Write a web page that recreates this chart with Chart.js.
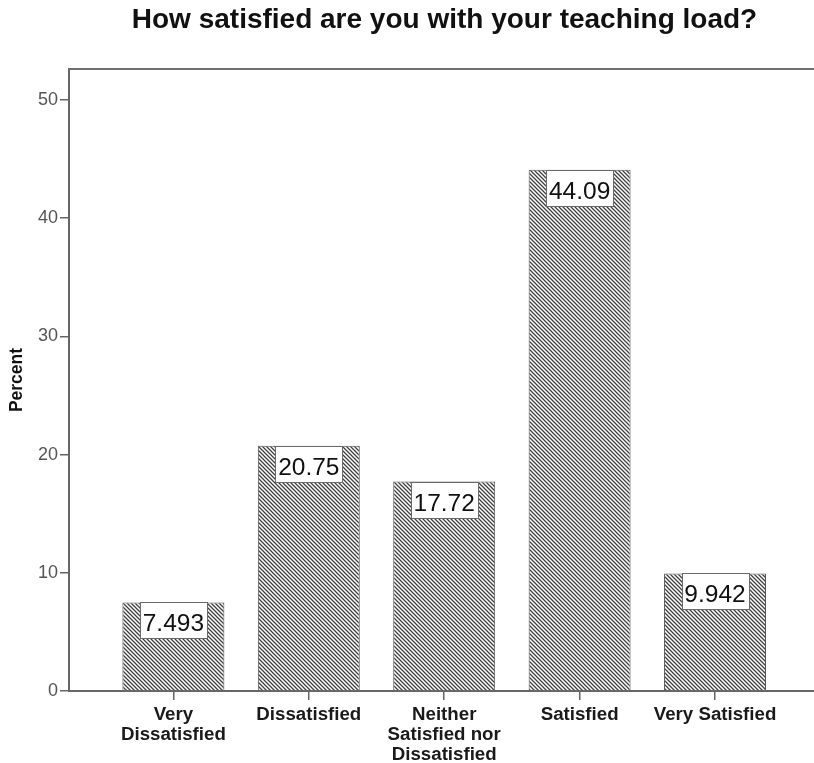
<!DOCTYPE html>
<html>
<head>
<meta charset="utf-8">
<script src="https://cdn.jsdelivr.net/npm/chart.js@4/dist/chart.umd.min.js"></script>
<style>
  html, body { margin: 0; padding: 0; background: #fff; }
  #wrap { width: 814px; height: 763px; }
</style>
</head>
<body>
<div id="wrap"><canvas id="c" width="814" height="763"></canvas></div>
<script>
const titleText = "How satisfied are you with your teaching load?";
const categories = [
  ["Very", "Dissatisfied"],
  ["Dissatisfied"],
  ["Neither", "Satisfied nor", "Dissatisfied"],
  ["Satisfied"],
  ["Very Satisfied"]
];
const percentValues = [7.493, 20.75, 17.72, 44.09, 9.942];
const valueLabels = ["7.493", "20.75", "17.72", "44.09", "9.942"];
const yTicks = [0, 10, 20, 30, 40, 50];
const yAxisTitle = "Percent";

const FONT = '"Liberation Sans", Arial, Helvetica, sans-serif';

function makeHatch() {
  const s = 4;
  const c = document.createElement('canvas');
  c.width = s; c.height = s;
  const g = c.getContext('2d');
  g.fillStyle = '#ffffff';
  g.fillRect(0, 0, s, s);
  g.strokeStyle = '#404040';
  g.lineWidth = 1.3;
  g.beginPath();
  g.moveTo(-1, -1); g.lineTo(s + 1, s + 1);
  g.moveTo(-1, s - 1); g.lineTo(1, s + 1);
  g.moveTo(s - 1, -1); g.lineTo(s + 1, 1);
  g.stroke();
  return document.getElementById('c').getContext('2d').createPattern(c, 'repeat');
}

const framePlugin = {
  id: 'frame',
  afterLayout(chart) {
    const t = chart.titleBlock;
    if (t) {
      t.left = chart.chartArea.left + 3;
      t.right = chart.chartArea.right + 3;
      t.width = t.right - t.left;
    }
  },
  afterDraw(chart) {
    const {ctx, chartArea} = chart;
    ctx.save();
    ctx.strokeStyle = '#707070';
    ctx.lineWidth = 2;
    ctx.beginPath();
    ctx.moveTo(chartArea.left, chartArea.top);
    ctx.lineTo(chartArea.right, chartArea.top);
    ctx.stroke();
    ctx.restore();
  }
};

const valueLabelPlugin = {
  id: 'valueLabels',
  afterDatasetsDraw(chart) {
    const {ctx} = chart;
    const meta = chart.getDatasetMeta(0);
    ctx.save();
    ctx.font = '24.5px ' + FONT;
    meta.data.forEach((bar, i) => {
      const txt = valueLabels[i];
      const w = Math.round(ctx.measureText(txt).width + 6);
      const h = 36;
      const left = Math.round(bar.x - w / 2) + 0.5;
      const top = Math.round(bar.y) + 0.5;
      ctx.fillStyle = '#ffffff';
      ctx.fillRect(left, top, w, h);
      ctx.strokeStyle = '#6a6a6a';
      ctx.lineWidth = 1;
      ctx.strokeRect(left, top, w, h);
      ctx.fillStyle = '#111111';
      ctx.textAlign = 'center';
      ctx.textBaseline = 'alphabetic';
      ctx.fillText(txt, bar.x, top + 28);
    });
    ctx.restore();
  }
};

const hatch = makeHatch();

new Chart(document.getElementById('c'), {
  type: 'bar',
  data: {
    datasets: [{
      data: percentValues.map((v, i) => ({x: i, y: v})),
      backgroundColor: hatch,
      borderColor: '#555555',
      borderWidth: 1,
      barPercentage: 0.753,
      categoryPercentage: 1.0
    }]
  },
  options: {
    responsive: false,
    animation: false,
    devicePixelRatio: 1,
    layout: { padding: 0 },
    plugins: {
      legend: { display: false },
      tooltip: { enabled: false },
      title: {
        display: true,
        text: titleText,
        color: '#111111',
        font: { family: FONT, size: 28, weight: 'bold', lineHeight: 1.2 },
        padding: { top: 3, bottom: 32.4 }
      }
    },
    scales: {
      x: {
        type: 'linear',
        offset: false,
        min: -0.771,
        max: 4.731,
        afterBuildTicks(scale) {
          scale.ticks = categories.map((c, i) => ({ value: i }));
        },
        afterFit(scale) { scale.height = 72; },
        ticks: {
          autoSkip: false,
          maxRotation: 0,
          minRotation: 0,
          padding: 5,
          color: '#1a1a1a',
          font: { family: FONT, size: 18.7, weight: 'bold', lineHeight: 1.07 },
          callback: (v) => categories[v] || ''
        },
        grid: {
          display: true,
          offset: false,
          drawOnChartArea: false,
          drawTicks: true,
          tickLength: 9,
          color: '#666666',
          lineWidth: 1.5
        },
        border: { display: true, color: '#666666', width: 2 }
      },
      y: {
        min: 0,
        max: 52.62,
        afterBuildTicks(scale) {
          scale.ticks = yTicks.map(v => ({ value: v }));
        },
        afterFit(scale) { scale.width = 69; },
        ticks: {
          padding: 2,
          color: '#555555',
          font: { family: FONT, size: 18 }
        },
        title: {
          display: true,
          text: yAxisTitle,
          color: '#111111',
          font: { family: FONT, size: 17.5, weight: 'bold', lineHeight: 1.2 },
          padding: { top: 7 }
        },
        grid: {
          display: true,
          drawOnChartArea: false,
          drawTicks: true,
          tickLength: 9,
          color: '#666666',
          lineWidth: 1.5
        },
        border: { display: true, color: '#666666', width: 2 }
      }
    }
  },
  plugins: [framePlugin, valueLabelPlugin]
});
</script>
</body>
</html>
